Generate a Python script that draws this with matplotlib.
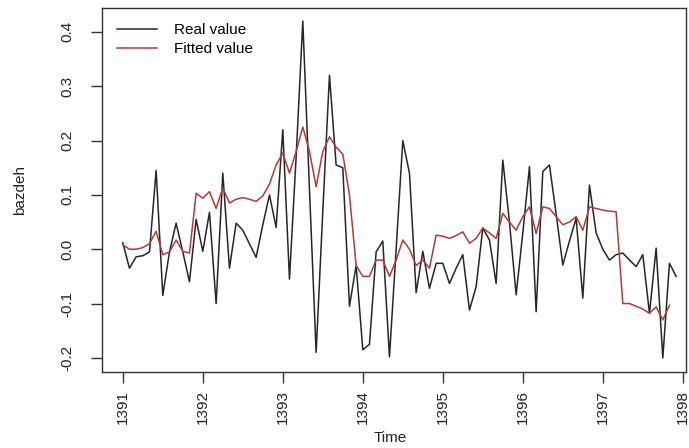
import numpy as np
import matplotlib
matplotlib.use("Agg")
import matplotlib.pyplot as plt

plt.rcParams['font.family'] = ['Liberation Sans', 'DejaVu Sans']
plt.rcParams['axes.unicode_minus'] = False

start_year = 1391

real_value = [0.012, -0.035, -0.014, -0.012, -0.005, 0.145, -0.085, -0.005, 0.048, -0.005,
              -0.06, 0.055, -0.004, 0.068, -0.1, 0.14, -0.035, 0.048, 0.035, 0.01,
              -0.015, 0.045, 0.1, 0.04, 0.22, -0.055, 0.17, 0.42, 0.11, -0.19,
              0.07, 0.32, 0.155, 0.15, -0.105, -0.03, -0.185, -0.175, -0.005, 0.015,
              -0.198, 0.0, 0.2, 0.14, -0.08, -0.004, -0.072, -0.026, -0.026, -0.063,
              -0.035, -0.01, -0.112, -0.069, 0.039, 0.017, -0.063, 0.164, 0.05, -0.084,
              0.03, 0.152, -0.115, 0.143, 0.155, 0.065, -0.029, 0.015, 0.057, -0.09,
              0.118, 0.03, 0.0, -0.02, -0.01, -0.007, -0.02, -0.032, -0.01, -0.118,
              0.002, -0.2, -0.026, -0.05]

fitted_value = [0.008, 0.0, 0.0, 0.003, 0.01, 0.033, -0.01, -0.005, 0.017, -0.004,
                -0.007, 0.103, 0.094, 0.106, 0.075, 0.113, 0.085, 0.092, 0.095, 0.092,
                0.088, 0.098, 0.12, 0.155, 0.177, 0.14, 0.18, 0.225, 0.18, 0.115,
                0.18, 0.207, 0.188, 0.175, 0.1, -0.03, -0.05, -0.05, -0.02, -0.02,
                -0.05, -0.02, 0.017, 0.0, -0.03, -0.02, -0.035, 0.026, 0.024, 0.02,
                0.025, 0.032, 0.011, 0.02, 0.039, 0.03, 0.02, 0.066, 0.05, 0.035,
                0.06, 0.078, 0.029, 0.078, 0.075, 0.06, 0.045, 0.05, 0.06, 0.035,
                0.078, 0.075, 0.072, 0.07, 0.069, -0.1, -0.1, -0.105, -0.11, -0.118,
                -0.106, -0.13, -0.103]

x_ticks = [1391, 1392, 1393, 1394, 1395, 1396, 1397, 1398]
x_tick_labels = ["1391", "1392", "1393", "1394", "1395", "1396", "1397", "1398"]
y_ticks = [-0.2, -0.1, 0.0, 0.1, 0.2, 0.3, 0.4]
y_tick_labels = ["-0.2", "-0.1", "0.0", "0.1", "0.2", "0.3", "0.4"]
legend_labels = ["Real value", "Fitted value"]

t_real = start_year + np.arange(len(real_value)) / 12.0
t_fit = start_year + np.arange(len(fitted_value)) / 12.0

fig = plt.figure(figsize=(6.89, 4.48), dpi=100)
ax = fig.add_axes([102/689, 1 - 372/448, 584/689, 364/448])

black_c = '#262626'
red_c = '#B23A3A'
ax.plot(t_real, real_value, color=black_c, lw=1.1, label=legend_labels[0])
ax.plot(t_fit, fitted_value, color=red_c, lw=1.1, label=legend_labels[1])

ax.set_xlim(1390.74, 1398.04)
ax.set_ylim(-0.226, 0.444)

ax.set_xticks(x_ticks)
ax.set_xticklabels(x_tick_labels, rotation=90, ha='center', va='top', fontsize=11)
ax.set_yticks(y_ticks)
ax.set_yticklabels(y_tick_labels, rotation=90, ha='right', va='center', fontsize=11)
ax.tick_params(axis='both', direction='out', length=8, width=1, color='#333333', labelcolor='#222222')
ax.tick_params(axis='x', pad=5)
ax.tick_params(axis='y', pad=12)

for s in ax.spines.values():
    s.set_color('#333333')
    s.set_linewidth(1)

fig.text(390/689, 1 - 438/448, "Time", ha='center', va='center', fontsize=11, color='#222222')
fig.text(20/689, 1 - 190/448, "bazdeh", ha='center', va='center', rotation=90, fontsize=11, color='#222222')

leg = ax.legend(loc='upper left', frameon=False, fontsize=11, handlelength=2.6,
                bbox_to_anchor=(0.0, 1.0), borderaxespad=0.6, labelspacing=0.3, handletextpad=1.1)

fig.savefig("out.png", dpi=100)
